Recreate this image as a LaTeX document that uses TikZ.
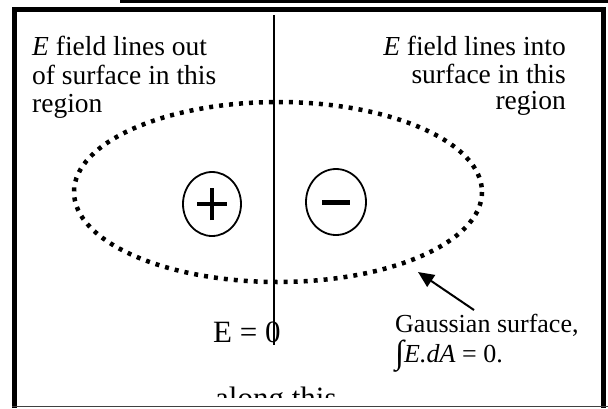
\documentclass[tikz,border=0pt]{standalone}
\usepackage{fontspec}
\setmainfont{Liberation Serif}
\usetikzlibrary{arrows.meta,shapes.geometric}
\tikzset{
  txt/.style={inner sep=0pt, font=\fontsize{26}{29}\selectfont},
  toptxt/.style={inner sep=0pt, font=\fontsize{27.5}{29}\selectfont},
  bigtxt/.style={inner sep=0pt, font=\fontsize{31}{34}\selectfont},
  charge/.style={draw, ellipse, line width=1.8pt, inner sep=0pt},
  sign/.style={line width=4.5pt},
  gauss/.style={line width=4.5pt, dash pattern=on 4pt off 6pt},
  frame/.style={line width=5pt},
}
\begin{document}
\begin{tikzpicture}[x=1pt,y=-1pt]
\useasboundingbox (0,0) rectangle (608,408);
% top rule above the frame
\draw[line width=3pt] (120,1) -- (608,1);
% frame
\draw[frame] (14.5,408) -- (14.5,9.5) -- (603,9.5) -- (603,408);
\draw[line width=1pt, black!75] (12,406.5) -- (608,406.5);
% vertical line
\coordinate (vtop) at (274,15);
\coordinate (vbot) at (274,345);
\draw[line width=2pt] (vtop) -- (vbot);
% Gaussian surface
\draw[gauss] (278,192) ellipse [x radius=204, y radius=90];
% charges
\node[charge, minimum width=58pt, minimum height=64pt] (plus) at (212,204) {};
\node[charge, minimum width=60pt, minimum height=66pt] (minus) at (336,202) {};
\draw[sign] ([xshift=-15pt]plus.center) -- ([xshift=15pt]plus.center);
\draw[sign] ([yshift=-16pt]plus.center) -- ([yshift=16pt]plus.center);
\draw[sign, line width=5pt] ([xshift=-14pt]minus.center) -- ([xshift=14pt]minus.center);
% left text
\node[toptxt, anchor=base west] (l1) at (32,55) {\textit{E} field lines out};
\node[toptxt, anchor=base west] (l2) at (32,84) {of surface in this};
\node[toptxt, anchor=base west] (l3) at (32,112) {region};
% right text
\node[toptxt, anchor=base east] (r1) at (566,55) {\textit{E} field lines into};
\node[toptxt, anchor=base east] (r2) at (566,83) {surface in this};
\node[toptxt, anchor=base east] (r3) at (566,109) {region};
% E = 0
\node[bigtxt, anchor=base west] (ez) at (213,342) {E = 0};
\begin{scope}
\clip (0,0) rectangle (608,397);
\node[bigtxt, anchor=base west] (along) at (215,408) {along this};
\end{scope}
% Gaussian surface label
\node[txt, anchor=base west] (g1) at (395,332) {Gaussian surface,};
\node[txt, anchor=base west] (g2) at (395,362) {{\fontsize{33}{33}\selectfont\raisebox{-1.5pt}{∫}}\textit{E.dA} = 0.};
\coordinate (tip) at (418,272);
\coordinate (tail) at (474,310);
\draw[line width=2pt, -{Triangle[length=16pt, width=14pt]}] (tail) -- (tip);
\end{tikzpicture}
\end{document}
